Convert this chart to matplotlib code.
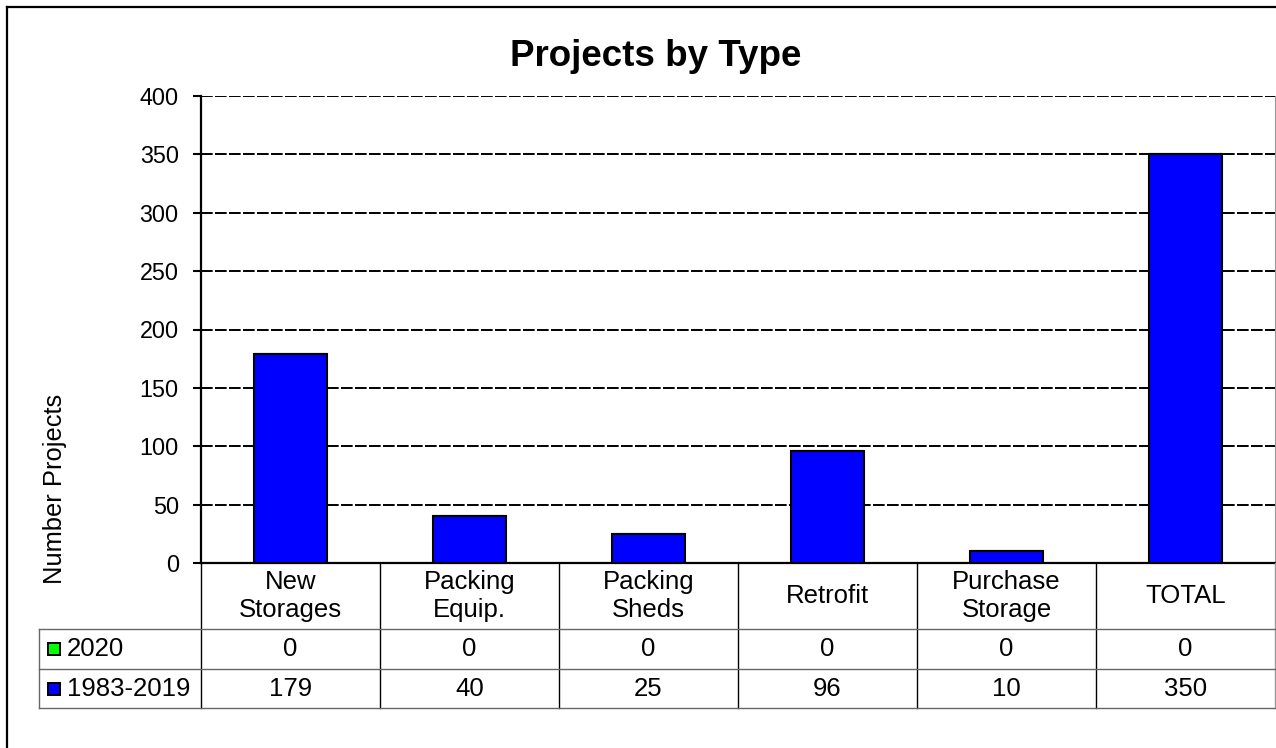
import numpy as np
import matplotlib
matplotlib.use('Agg')
import matplotlib.pyplot as plt
from matplotlib.transforms import blended_transform_factory
from matplotlib.lines import Line2D
from matplotlib.patches import Rectangle

plt.rcParams['font.family'] = ['Liberation Sans', 'DejaVu Sans']

categories = ['New\nStorages', 'Packing\nEquip.', 'Packing\nSheds', 'Retrofit',
              'Purchase\nStorage', 'TOTAL']
series_names = ['2020', '1983-2019']
values_2020 = [0, 0, 0, 0, 0, 0]
values_1983_2019 = [179, 40, 25, 96, 10, 350]
series_colors = ['#00FF00', '#0000FF']
yticks = [0, 50, 100, 150, 200, 250, 300, 350, 400]

W, H = 1276, 748
fig = plt.figure(figsize=(W / 100, H / 100), dpi=100)


def fx(px):
    return px / W


def fy(py):
    return 1 - py / H


# outer chart frame (right/bottom edges fall off the picture)
fig.add_artist(Line2D([fx(7), fx(7)], [fy(7), 0], color='black', lw=1.6))
fig.add_artist(Line2D([fx(7), 1], [fy(7), fy(7)], color='black', lw=1.6))

ax = fig.add_axes([fx(201), fy(563), fx(1275) - fx(201), fy(96) - fy(563)])
x = np.arange(len(categories))
ax.bar(x, values_1983_2019, width=0.41, color=series_colors[1],
       edgecolor='black', lw=1.5, zorder=3)
ax.bar(x, values_2020, bottom=values_1983_2019, width=0.41,
       color=series_colors[0], edgecolor='black', lw=1.5, zorder=3)

ax.set_xlim(-0.5, 5.5)
ax.set_ylim(0, 400)
ax.set_yticks(yticks)
ax.set_xticks([])
ax.yaxis.grid(True, color='black', linestyle=(0, (6, 1.2)), lw=1.4, zorder=1)
ax.tick_params(axis='y', length=6, width=1.5, pad=10, labelsize=16.8)
ax.spines['top'].set_visible(False)
ax.spines['right'].set_color('#999999')
ax.spines['right'].set_linewidth(0.8)
ax.spines['left'].set_linewidth(1.6)
ax.spines['bottom'].set_linewidth(1.6)

# data table under the axis
trans = blended_transform_factory(ax.transData, fig.transFigure)
row_y = [563, 629, 669, 708]
for i in range(len(categories) + 1):
    col = 'black' if i < len(categories) else '#999999'
    fig.add_artist(Line2D([i - 0.5, i - 0.5], [fy(row_y[0]), fy(row_y[-1])],
                          transform=trans, color=col, lw=1.0))
fig.add_artist(Line2D([fx(39), fx(39)], [fy(row_y[1]), fy(row_y[-1])],
                      color='#666666', lw=1.0))
for ry in row_y[1:]:
    fig.add_artist(Line2D([fx(39), fx(1275)], [fy(ry), fy(ry)],
                          color='#666666', lw=1.0))

tsize = 18.5
for i, cat in enumerate(categories):
    fig.text(i, fy((row_y[0] + row_y[1]) / 2), cat, transform=trans,
             ha='center', va='center', fontsize=tsize, linespacing=1.25)

rows = [values_2020, values_1983_2019]
for r, (name, vals, colr) in enumerate(zip(series_names, rows, series_colors)):
    yc = (row_y[r + 1] + row_y[r + 2]) / 2
    for i, v in enumerate(vals):
        fig.text(i, fy(yc), str(v), transform=trans,
                 ha='center', va='center', fontsize=tsize)
    fig.add_artist(Rectangle((fx(48), fy(yc + 6)), fx(12), 12 / H,
                             facecolor=colr, edgecolor='black', lw=1.4))
    fig.text(fx(67), fy(yc), name, ha='left', va='center', fontsize=tsize)

fig.text(fx(55), fy(489), 'Number Projects', rotation=90,
         ha='center', va='center', fontsize=18.4)
fig.text(fx(656), fy(57), 'Projects by Type', ha='center', va='center',
         fontsize=26.5, fontweight='bold')

fig.savefig('out.png', dpi=100)
